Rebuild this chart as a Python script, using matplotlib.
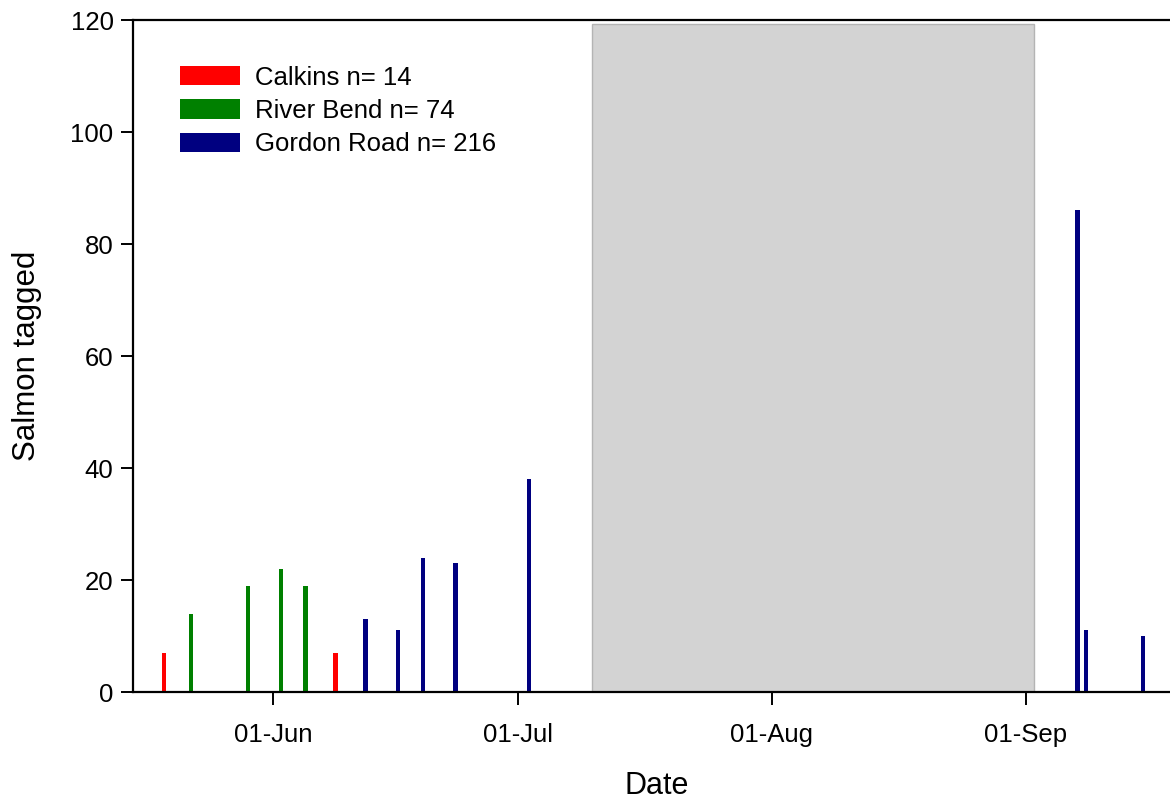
import datetime as dt

import matplotlib
matplotlib.use("Agg")
import matplotlib.dates as mdates
import matplotlib.pyplot as plt
from matplotlib.patches import Patch

plt.rcParams["font.family"] = ["Liberation Sans", "DejaVu Sans"]

# ---------------------------------------------------------------------------
# Data
# ---------------------------------------------------------------------------

YEAR = 2012

calkins_dates = ["05-19", "06-09"]
calkins_counts = [7, 7]

riverbend_dates = ["05-22", "05-29", "06-02", "06-05"]
riverbend_counts = [14, 19, 22, 19]

gordon_dates = ["06-12", "06-16", "06-19", "06-23", "07-02", "09-07", "09-08", "09-15"]
gordon_counts = [13, 11, 24, 23, 38, 86, 11, 10]

series_labels = ["Calkins n= 14", "River Bend n= 74", "Gordon Road n= 216"]
series_colors = ["#ff0000", "#008000", "#000080"]

# grey period when no tagging took place
gap_start, gap_end = "07-10", "09-02"
gap_height = 119.3

tick_dates = ["06-01", "07-01", "08-01", "09-01"]


def to_date(md):
    m, d = md.split("-")
    return dt.datetime(YEAR, int(m), int(d))


def to_num(md_list):
    return [mdates.date2num(to_date(md)) for md in md_list]


fig = plt.figure(figsize=(11.7, 8.0), dpi=100)
ax = fig.add_axes([133 / 1170, 108 / 800, 1037 / 1170, 672 / 800])

# shaded gap
g0 = mdates.date2num(to_date(gap_start))
g1 = mdates.date2num(to_date(gap_end))
ax.bar(g0, gap_height, width=g1 - g0, align="edge", color="#d3d3d3",
       edgecolor="#b4b4b4", linewidth=1.0, zorder=1)

# grouped bars: three series shifted by a third of a day
bar_w = 0.5
groups = [
    (calkins_dates, calkins_counts, -1 / 3),
    (riverbend_dates, riverbend_counts, 0.0),
    (gordon_dates, gordon_counts, 1 / 3),
]
for (dates, counts, shift), color in zip(groups, series_colors):
    xs = [x + shift for x in to_num(dates)]
    ax.bar(xs, counts, width=bar_w, color=color, linewidth=0, zorder=2)

x_left = mdates.date2num(to_date("06-01")) - 17.08
x_right = mdates.date2num(to_date("09-01")) + 17.64
ax.set_xlim(x_left, x_right)
ax.set_ylim(0, 120)

ax.set_xticks(to_num(tick_dates))
ax.xaxis.set_major_formatter(mdates.DateFormatter("%d-%b"))
ax.set_yticks(range(0, 121, 20))

ax.spines["right"].set_visible(False)
for s in ["left", "top", "bottom"]:
    ax.spines[s].set_linewidth(1.6)
ax.tick_params(axis="both", direction="out", length=9, width=1.4,
               labelsize=18.5, colors="black")
ax.tick_params(axis="x", pad=13)
ax.tick_params(axis="y", pad=5)

ax.set_xlabel("Date", fontsize=22)
ax.set_ylabel("Salmon tagged", fontsize=22.5)
ax.xaxis.set_label_coords(0.505, -0.118)
ax.yaxis.set_label_coords(-0.088, 0.5)

handles = [Patch(facecolor=c, edgecolor="none") for c in series_colors]
ax.legend(handles, series_labels, loc="upper left",
          bbox_to_anchor=(0.045, 0.932), frameon=False, fontsize=18.5,
          handlelength=2.35, handleheight=0.77, labelspacing=0.36,
          handletextpad=0.58, borderaxespad=0, borderpad=0)

fig.savefig("out.png", dpi=100)
